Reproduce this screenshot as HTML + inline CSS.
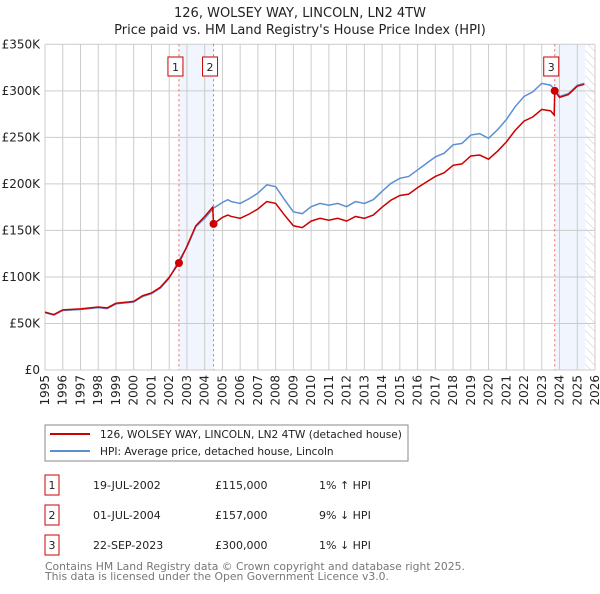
<!DOCTYPE html>
<html><head><meta charset="utf-8"><style>
body{margin:0;background:#fff;font-family:"DejaVu Sans","Liberation Sans",sans-serif;}
svg text{font-family:"DejaVu Sans","Liberation Sans",sans-serif;}
</style></head><body>
<svg id="chart" width="600" height="590" viewBox="0 0 600 590">
<defs><pattern id="hatch" width="6" height="6" patternUnits="userSpaceOnUse" patternTransform="rotate(-45)"><line x1="0" y1="0" x2="0" y2="6" stroke="#ccc" stroke-width="1"/></pattern></defs>
<text x="300" y="17" text-anchor="middle" font-size="13" fill="#222">126, WOLSEY WAY, LINCOLN, LN2 4TW</text>
<text x="300" y="34" text-anchor="middle" font-size="13" fill="#222">Price paid vs. HM Land Registry's House Price Index (HPI)</text>
<g id="plot"></g>
<rect x="45" y="425" width="363" height="36" fill="#fff" stroke="#888"/>
<line x1="50" y1="434" x2="90" y2="434" stroke="#cc0000" stroke-width="2"/>
<text x="100" y="438" font-size="10.6" fill="#222">126, WOLSEY WAY, LINCOLN, LN2 4TW (detached house)</text>
<line x1="50" y1="451" x2="90" y2="451" stroke="#5b8fd0" stroke-width="2"/>
<text x="100" y="455" font-size="10.6" fill="#222">HPI: Average price, detached house, Lincoln</text>
<g id="table" font-size="11" fill="#222"></g>
<text x="45" y="570" font-size="10.8" fill="#777">Contains HM Land Registry data © Crown copyright and database right 2025.</text>
<text x="45" y="580" font-size="10.8" fill="#777">This data is licensed under the Open Government Licence v3.0.</text>
</svg>
<script>
const hpiYears=[1995,1995.5,1996,1997,1998,1998.5,1999,2000,2000.5,2001,2001.5,2002,2002.5,2003,2003.5,2004,2004.5,2005,2005.3,2005.5,2006,2006.5,2007,2007.5,2008,2008.5,2009,2009.5,2010,2010.5,2011,2011.5,2012,2012.5,2013,2013.5,2014,2014.5,2015,2015.5,2016,2016.5,2017,2017.5,2018,2018.5,2019,2019.5,2020,2020.5,2021,2021.5,2022,2022.5,2023,2023.5,2023.75,2024,2024.5,2025,2025.4];
const hpiValues=[61.6,59,64,65,67,66,71,73,79,82,88,98.5,116,132,154,163,174,180,183,181,179,184,190,199,197,183,170,168,175.5,179,177,179,175.5,181,179,183,192,200.6,206,208,215,222,229,233,242,243.5,252.5,254,249,258,269,283,294,299,308,306,301,294,297,306,308];
const propYears=[1995,1995.5,1996,1997,1998,1998.5,1999,2000,2000.5,2001,2001.5,2002,2002.55,2003,2003.5,2004,2004.45,2004.5,2005,2005.3,2005.5,2006,2006.5,2007,2007.5,2008,2008.5,2009,2009.5,2010,2010.5,2011,2011.5,2012,2012.5,2013,2013.5,2014,2014.5,2015,2015.5,2016,2016.5,2017,2017.5,2018,2018.5,2019,2019.5,2020,2020.5,2021,2021.5,2022,2022.5,2023,2023.5,2023.7,2023.73,2024,2024.5,2025,2025.4];
const propValues=[62.2,59.6,64.6,65.7,67.7,66.7,71.7,73.7,79.8,82.8,88.9,99.5,115,133,155,165,175,157,164,166.5,165,163,167.5,173,181,179,166.5,155,153,160,163,161,163,160,165,163,166.5,175,182.5,187.5,189,196,202,208,212,220,221.5,230,231,226.5,235,245,257.5,267.5,272,280,278.5,274,300,293,296,305,307];
const saleYears=[2002.55,2004.5,2023.73];
const saleValues=[115,157,300];
const saleLabels=["1","2","3"];
const saleDates=["19-JUL-2002","01-JUL-2004","22-SEP-2023"];
const salePrices=["£115,000","£157,000","£300,000"];
const saleDiffs=["1% ↑ HPI","9% ↓ HPI","1% ↓ HPI"];
const yTicks=[0,50,100,150,200,250,300,350];
const yTickLabels=["£0","£50K","£100K","£150K","£200K","£250K","£300K","£350K"];
const xTicks=[1995,1996,1997,1998,1999,2000,2001,2002,2003,2004,2005,2006,2007,2008,2009,2010,2011,2012,2013,2014,2015,2016,2017,2018,2019,2020,2021,2022,2023,2024,2025,2026];
const shadeRanges=[[2002.55,2004.5],[2023.73,2025.45]];

const NS="http://www.w3.org/2000/svg";
const X0=45,X1=595,Y0=370,Y1=44.3;
const xs=y=>X0+(y-1995)/(2026-1995)*(X1-X0);
const ys=v=>Y0-(v/350)*(Y0-Y1);
const plot=document.getElementById('plot');
function mk(tag,attrs,parent){const e=document.createElementNS(NS,tag);for(const k in attrs)e.setAttribute(k,attrs[k]);(parent||plot).appendChild(e);return e;}

shadeRanges.forEach(r=>{
 const e=mk('rect',{x:xs(r[0]),y:Y1,width:xs(r[1])-xs(r[0]),height:Y0-Y1,fill:'#eef3fc',opacity:0.8});
 
 
});
const hx=xs(shadeRanges[1][1]);
const hr=mk('rect',{x:hx,y:Y1,width:X1-hx,height:Y0-Y1,fill:'url(#hatch)'});



yTicks.forEach((t,i)=>{
 const l=mk('line',{x1:X0,x2:X1,y1:ys(t),y2:ys(t),stroke:'#ccc','stroke-width':1});
 
 
 const tx=mk('text',{x:40,y:ys(t)+4,'text-anchor':'end','font-size':12,fill:'#222'});
 tx.textContent=yTickLabels[i];
 
 
});
xTicks.forEach(t=>{
 const l=mk('line',{x1:xs(t),x2:xs(t),y1:Y1,y2:Y0,stroke:'#ccc','stroke-width':1});
 
 
 const tx=mk('text',{x:0,y:0,'text-anchor':'end','font-size':12,fill:'#222',transform:`translate(${xs(t)+4},375) rotate(-90)`});
 tx.textContent=t;
 
 
});
saleYears.forEach(y=>{
 const l=mk('line',{x1:xs(y),x2:xs(y),y1:Y1,y2:Y0,stroke:'#e66','stroke-width':1,'stroke-dasharray':'2,3'});
 
 
});
const hp=mk('polyline',{points:hpiYears.map((y,i)=>xs(y)+','+ys(hpiValues[i])).join(' '),fill:'none',stroke:'#5b8fd0','stroke-width':1.5});


const pp=mk('polyline',{points:propYears.map((y,i)=>xs(y)+','+ys(propValues[i])).join(' '),fill:'none',stroke:'#cc0000','stroke-width':1.5});


saleYears.forEach((y,i)=>{
 const c=mk('circle',{cx:xs(y),cy:ys(saleValues[i]),r:4,fill:'#cc0000'});
 
 
 const b=mk('rect',{x:xs(y)-11,y:57,width:15,height:19,fill:'#fff',stroke:'#cc0000'});
 
 
 const t=mk('text',{x:xs(y)-3.5,y:71,'text-anchor':'middle','font-size':11,fill:'#222'});
 t.textContent=saleLabels[i];
 
 
});
const tb=document.getElementById('table');
saleLabels.forEach((s,i)=>{
 const yy=483+i*30;
 const b=mk('rect',{x:45,y:yy-8,width:14,height:20,fill:'#fff',stroke:'#cc0000'},tb);
 
 
 const vals=[[s,52,'middle'],[saleDates[i],93,'start'],[salePrices[i],215,'start'],[saleDiffs[i],319,'start']];
 vals.forEach(v=>{
  const t=mk('text',{x:v[1],y:yy+6,'text-anchor':v[2]},tb);
  t.textContent=v[0];
  
  
 });
});
</script>
</body></html>
